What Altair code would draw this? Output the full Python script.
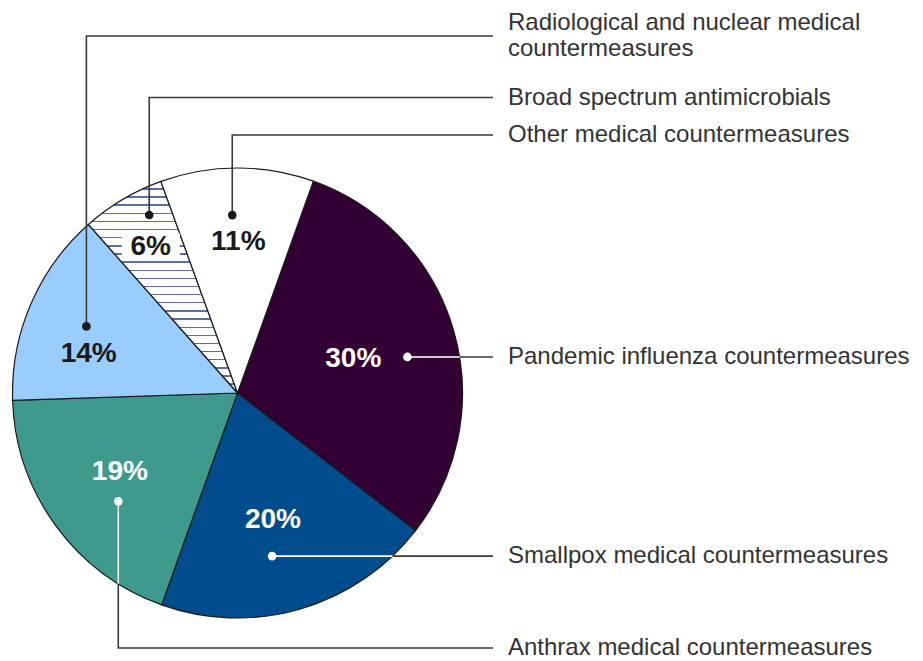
import math
import altair as alt
import pandas as pd

# ---------------- data ----------------
categories = [
    "Pandemic influenza countermeasures",
    "Smallpox medical countermeasures",
    "Anthrax medical countermeasures",
    "Radiological and nuclear medical countermeasures",
    "Broad spectrum antimicrobials",
    "Other medical countermeasures",
]
shares = [30, 20, 19, 14, 6, 11]
label_texts = [
    "Pandemic influenza countermeasures",
    "Smallpox medical countermeasures",
    "Anthrax medical countermeasures",
    "Radiological and nuclear medical\ncountermeasures",
    "Broad spectrum antimicrobials",
    "Other medical countermeasures",
]

# ---------------- styles ----------------
slice_colors = ["#330033", "#004c8c", "#3d9a8c", "#99ccff", "#ffffff", "#ffffff"]
ink_colors = ["#ffffff", "#ffffff", "#ffffff", "#1a1a1a", "#1a1a1a", "#1a1a1a"]
hatched = [False, False, False, False, True, False]
boxed = [False, False, False, False, True, False]
LINE_COLOR = "#3a3a3a"
TEXT_COLOR = "#333333"
HATCH_COLOR = "#5a70a3"
FONT = "Liberation Sans"
LABEL_SIZE = 24
LINE_HEIGHT = 26

# ---------------- layout ----------------
W, H = 907, 653
CX, CY, R = 229.5, 385.0, 225.0     # pie centre / radius in chart pixels
START_DEG = 19.7                     # where the first slice starts (clockwise from 12 o'clock)
dot_frac = [0.54, 0.56, 0.41, 0.51, 0.70, 0.46]     # position inside slice (angular fraction)
dot_rad = [0.772, 0.741, 0.716, 0.734, 0.883, 0.791]
pct_frac = [0.50, 0.51, 0.53, 0.33, 0.50, 0.51]
pct_rad = [0.536, 0.587, 0.631, 0.684, 0.755, 0.671]
label_row_px = [None, None, 640.0, 28.0, 89.5, 127.0]  # None: row at the dot's height
LEADER_END_PX = 485.0
LABEL_X_PX = 500.0


def ux(px):
    return (px - CX) / R


def uy(py):
    return (CY - py) / R


total = sum(shares)
start = math.radians(START_DEG)

pie_rows, dot_rows, line_rows, white_rows, label_rows = [], [], [], [], []
cum = 0.0
for i, (cat, v) in enumerate(zip(categories, shares)):
    a0 = cum / total
    cum += v

    def ang(f):
        return start + 2 * math.pi * (a0 + f * v / total)

    td = ang(dot_frac[i])
    x0, y0 = dot_rad[i] * math.sin(td), dot_rad[i] * math.cos(td)
    tp = ang(pct_frac[i])
    xp, yp = pct_rad[i] * math.sin(tp), pct_rad[i] * math.cos(tp)

    pie_rows.append({"idx": i, "category": cat, "share": v, "hatched": hatched[i]})
    dot_rows.append({"category": cat, "x": x0, "y": y0, "ink": ink_colors[i],
                     "px": xp, "py": yp, "pct": f"{v}%", "boxed": boxed[i]})

    row_y = y0 if label_row_px[i] is None else uy(label_row_px[i])
    end_x = ux(LEADER_END_PX)
    pts = [(x0, y0), (x0, row_y), (end_x, row_y)]
    for s, (lx, ly) in enumerate(pts):
        line_rows.append({"category": cat, "seq": s, "x": lx, "y": ly})

    if ink_colors[i].lower() == "#ffffff":
        if abs(row_y - y0) > 1e-9:
            ye = math.copysign(math.sqrt(1 - x0 * x0), row_y - y0)
            seg = [(x0, y0), (x0, ye)]
        else:
            xe = math.sqrt(1 - y0 * y0)
            seg = [(x0, y0), (xe, y0)]
        for s, (lx, ly) in enumerate(seg):
            white_rows.append({"category": cat, "seq": s, "x": lx, "y": ly})

    # label lines: the block of lines is centred on the leader row
    lines = label_texts[i].split("\n")
    n = len(lines)
    for j, txt in enumerate(lines):
        ly = row_y + ((n - 1) / 2 - j) * LINE_HEIGHT / R
        label_rows.append({"category": cat, "x": ux(LABEL_X_PX), "y": ly, "label": txt})

pie_df = pd.DataFrame(pie_rows)
dot_df = pd.DataFrame(dot_rows)
line_df = pd.DataFrame(line_rows)
white_df = pd.DataFrame(white_rows)
label_df = pd.DataFrame(label_rows)

# hatch: horizontal blue stripes on white, built as a hard-stop linear gradient
n_stripes = 26
t = 0.0065
stops = []
for k in range(n_stripes):
    a = k / n_stripes
    b = (k + 1) / n_stripes
    stops += [
        {"offset": a, "color": "#ffffff"},
        {"offset": b - t, "color": "#ffffff"},
        {"offset": b - t, "color": HATCH_COLOR},
        {"offset": b, "color": HATCH_COLOR},
    ]
hatch = {"gradient": "linear", "x1": 0, "y1": 0, "x2": 0, "y2": 1, "stops": stops}

xs = alt.Scale(domain=[ux(0), ux(W)], nice=False, zero=False)
ys = alt.Scale(domain=[uy(H), uy(0)], nice=False, zero=False)

pie = alt.Chart(pie_df).mark_arc(radius=R, stroke="#1a1a1a", strokeWidth=1.2).encode(
    theta=alt.Theta("share:Q", stack=True,
                    scale=alt.Scale(domain=[0, total], range=[start, start + 2 * math.pi])),
    order=alt.Order("idx:Q", sort="ascending"),
    fill=alt.condition(
        alt.datum.hatched,
        alt.value(hatch),
        alt.Fill("category:N", scale=alt.Scale(domain=categories, range=slice_colors), legend=None),
    ),
    x=alt.XDatum(0, type="quantitative", scale=xs, axis=None),
    y=alt.YDatum(0, type="quantitative", scale=ys, axis=None),
)

X = alt.X("x:Q", scale=xs, axis=None)
Y = alt.Y("y:Q", scale=ys, axis=None)

dark_lines = alt.Chart(line_df).mark_line(color=LINE_COLOR, strokeWidth=1.6).encode(
    x=X, y=Y, detail="category:N", order="seq:Q"
)
white_lines = alt.Chart(white_df).mark_line(color="#ffffff", strokeWidth=1.6).encode(
    x=X, y=Y, detail="category:N", order="seq:Q"
)
dots = alt.Chart(dot_df).mark_circle(size=75, opacity=1).encode(
    x=X, y=Y, color=alt.Color("ink:N", scale=None)
)
box = alt.Chart(dot_df).transform_filter(alt.datum.boxed).mark_point(
    shape="M-1,-0.47H1V0.47H-1Z", size=3364, filled=True, fill="#ffffff", opacity=1, strokeWidth=0
).encode(
    x=alt.X("px:Q", scale=xs, axis=None), y=alt.Y("py:Q", scale=ys, axis=None)
)
pct = alt.Chart(dot_df).mark_text(
    font=FONT, fontWeight="bold", fontSize=28, align="center", baseline="middle"
).encode(
    x=alt.X("px:Q", scale=xs, axis=None),
    y=alt.Y("py:Q", scale=ys, axis=None),
    text="pct:N",
    color=alt.Color("ink:N", scale=None),
)
labels = alt.Chart(label_df).mark_text(
    font=FONT, fontSize=LABEL_SIZE, align="left", baseline="middle", color=TEXT_COLOR,
).encode(x=X, y=Y, text="label:N")

chart = alt.layer(pie, dark_lines, white_lines, dots, box, pct, labels).properties(
    width=W, height=H, padding=0, autosize=alt.AutoSizeParams(type="none")
).configure_view(stroke=None)

chart.save("out.html", embed_options={"renderer": "svg", "actions": False})
